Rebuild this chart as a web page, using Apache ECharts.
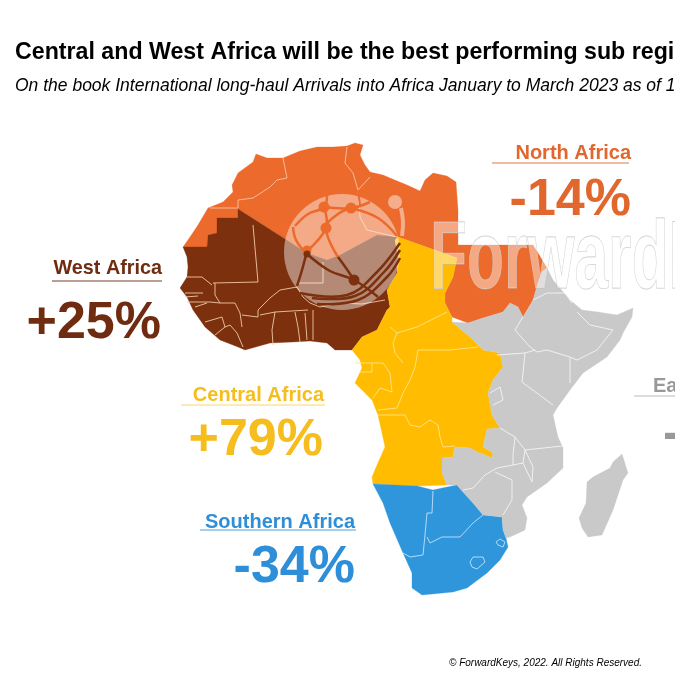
<!DOCTYPE html>
<html lang="en">
<head>
<meta charset="UTF-8">
<title>Africa sub regions</title>
<script src="https://cdn.jsdelivr.net/npm/echarts@6/dist/echarts.min.js"></script>
<style>
  html, body { margin: 0; padding: 0; background: #fff; overflow: hidden; }
  #main { width: 675px; height: 675px; }
</style>
</head>
<body>
<div id="main"></div>
<script>
// values
var regionNames = ['North Africa', 'West Africa', 'Central Africa', 'Southern Africa'];
var regionChanges = [-14, 25, 79, -34];

// map outlines, in map units (y grows southwards)
var northOutline = [[183,247],[190,237],[198,225],[208,208],[223,202],[233,192],[232,185],[238,173],[253,162],[256,154],[267,158],[283,158],[300,151],[317,147],[333,147],[347,146],[355,143],[363,145],[360,155],[365,165],[370,172],[383,175],[390,178],[407,185],[420,191],[425,180],[433,173],[447,176],[456,182],[458,210],[458,245],[533,245],[538,253],[547,268],[542,272],[538,283],[533,300],[523,317],[518,307],[510,303],[503,312],[483,318],[468,323],[452,317],[445,303],[445,293],[453,277],[457,258],[398,237],[377,235],[340,255],[327,260],[307,253],[238,209],[238,218],[217,218],[217,233],[208,235],[207,247]];
var westOutline = [[183,247],[207,247],[208,235],[217,233],[217,218],[238,218],[238,209],[307,253],[327,260],[340,255],[377,235],[398,237],[395,240],[398,257],[397,273],[387,290],[390,307],[387,310],[377,330],[362,337],[352,350],[335,350],[327,343],[310,341],[293,342],[270,343],[245,350],[238,347],[220,340],[205,327],[193,310],[187,297],[180,288],[187,277],[188,267],[187,257]];
var centralOutline = [[398,237],[457,258],[453,277],[445,293],[445,303],[452,317],[452,322],[470,337],[483,350],[500,353],[503,367],[493,380],[488,393],[492,415],[500,428],[487,429],[483,447],[493,453],[492,458],[485,455],[477,452],[470,448],[455,447],[453,457],[442,458],[442,473],[447,485],[417,486],[373,484],[372,477],[377,465],[385,447],[382,433],[378,415],[372,400],[355,383],[362,368],[360,360],[352,350],[362,337],[377,330],[387,310],[390,307],[387,290],[397,273],[398,257],[395,240]];
var southOutline = [[373,484],[417,486],[433,490],[447,487],[457,485],[463,492],[473,503],[483,515],[502,517],[503,530],[506,538],[508,547],[500,560],[487,573],[467,588],[453,592],[422,595],[412,588],[412,573],[403,553],[390,523],[383,503]];
var eastOutline = [[547,268],[553,280],[570,300],[582,310],[598,312],[617,315],[633,308],[632,317],[623,333],[620,340],[607,357],[583,373],[570,390],[557,408],[553,415],[558,437],[563,448],[563,468],[547,483],[527,497],[522,505],[527,518],[525,530],[510,537],[506,538],[503,530],[502,517],[483,515],[473,503],[463,492],[457,485],[447,485],[442,473],[442,458],[453,457],[455,447],[470,448],[477,452],[485,455],[492,458],[493,453],[483,447],[487,429],[500,428],[492,415],[488,393],[493,380],[503,367],[500,353],[483,350],[470,337],[452,322],[468,323],[483,318],[503,312],[510,303],[518,307],[523,317],[533,300],[538,283],[542,272]];
var madagascarOutline = [[622,454],[628,473],[623,480],[613,510],[602,535],[588,537],[582,528],[579,518],[586,503],[587,482],[593,477],[610,468],[613,462]];

// country borders inside each region
var northBorders = [
  [[210,208],[238,208],[238,200]],
  [[238,200],[253,198],[270,187],[277,180],[287,178],[283,158]],
  [[347,147],[345,163],[353,173],[358,190],[370,177]],
  [[358,190],[360,217],[367,230],[397,237]]
];
var westBorders = [
  [[253,225],[258,282],[213,283]],
  [[187,277],[202,277],[212,285]],
  [[215,283],[215,295],[220,303]],
  [[185,293],[203,293]],
  [[185,297],[198,296]],
  [[187,302],[210,302],[220,303],[235,303],[240,313],[242,327]],
  [[195,307],[207,303]],
  [[205,322],[222,317],[225,327],[215,335]],
  [[225,327],[230,325],[237,333],[243,347]],
  [[242,315],[258,317],[258,310],[270,298],[280,290],[297,287]],
  [[298,283],[323,283],[323,262]],
  [[297,287],[303,297],[310,303],[320,307]],
  [[260,315],[275,312],[308,310]],
  [[275,312],[272,330],[273,345]],
  [[295,312],[298,327],[300,342]],
  [[305,313],[307,340]],
  [[313,310],[313,340]],
  [[320,307],[340,303],[362,304],[385,300]]
];
var centralBorders = [
  [[390,327],[397,333],[417,327],[447,312]],
  [[397,333],[393,343],[395,353],[403,363]],
  [[418,350],[450,350],[478,347]],
  [[418,350],[415,367],[410,380],[403,393],[397,408],[378,410]],
  [[355,363],[383,363],[390,373],[392,392],[380,388],[373,398]],
  [[360,372],[372,372],[372,363]],
  [[378,415],[405,415],[410,425],[420,427],[430,420],[438,425],[440,437],[443,447],[455,446]]
];
var southBorders = [
  [[433,491],[432,513],[427,513],[425,535],[423,555],[410,557],[403,553]],
  [[427,537],[430,543],[442,537],[460,537],[473,523],[483,515]],
  [[470,562],[473,557],[483,557],[485,562],[477,569],[472,567],[470,562]],
  [[496,542],[500,539],[505,542],[503,547],[498,545],[496,542]]
];
var eastBorders = [
  [[533,300],[547,293],[565,293],[572,303]],
  [[577,312],[590,325],[613,330],[597,350],[577,360],[570,357]],
  [[523,317],[515,330],[530,347],[537,352],[547,350],[570,357]],
  [[497,355],[525,353],[535,350]],
  [[525,353],[523,373],[522,382],[553,405]],
  [[570,357],[570,383]],
  [[490,393],[500,387],[503,400],[493,405]],
  [[500,428],[515,437],[525,450],[562,446]],
  [[525,450],[523,463],[532,482],[533,467],[525,450]],
  [[515,437],[513,455],[513,465],[497,468],[485,475],[473,488],[463,490]],
  [[513,465],[523,463]],
  [[495,472],[512,480],[512,500],[503,515]]
];

// one colour for each of the arrays above
var regionColors = ['#ec6a2b', '#7c300e', '#ffbc00', '#2f96dc'];
var borderColors = ['#f8c3a5', '#f2c8a8', '#ffe48a', '#bfe2f8'];
var labelColors = ['#e2672e', '#702c10', '#f6bd1e', '#2e8fd8'];
var ruleColors = ['#e9a684', '#a08070', '#f8d675', '#4a9ede'];
var eastColor = '#c9c9c9';

function feature(name, outline) {
  return { type: 'Feature', properties: { name: name }, geometry: { type: 'Polygon', coordinates: [outline.concat([outline[0]])] } };
}

echarts.registerMap('africa', {
  type: 'FeatureCollection',
  features: [
    feature('North Africa', northOutline),
    feature('West Africa', westOutline),
    feature('Central Africa', centralOutline),
    feature('Southern Africa', southOutline),
    feature('East Africa', eastOutline),
    feature('Madagascar', madagascarOutline)
  ]
});

function borderSeries(lines, color) {
  return {
    type: 'lines',
    coordinateSystem: 'geo',
    polyline: true,
    silent: true,
    z: 5,
    lineStyle: { color: color, width: 0.9, opacity: 1 },
    data: lines.map(function (l) { return { coords: l }; })
  };
}

var sans = '"Liberation Sans", Arial, sans-serif';

function text(str, x, y, size, color, align, extra) {
  return {
    type: 'text', z: 100, silent: true, x: x, y: y,
    style: { text: str, fill: color, align: align || 'left', verticalAlign: 'middle', font: (extra || 'bold') + ' ' + size + 'px ' + sans }
  };
}
function rule(x1, x2, y, color, w) {
  return { type: 'line', z: 100, silent: true, shape: { x1: x1, y1: y, x2: x2, y2: y }, style: { stroke: color, lineWidth: w || 1.5 } };
}
function curve(points, color, w) {
  return { type: 'polyline', z: 101, silent: true, shape: { points: points, smooth: 0.4 }, style: { stroke: color, lineWidth: w, fill: null } };
}
function dot(cx, cy, r, color) {
  return { type: 'circle', z: 102, silent: true, shape: { cx: cx, cy: cy, r: r }, style: { fill: color } };
}
function pct(v) { return (v > 0 ? '+' : '-') + Math.abs(v) + '%'; }

var orange = regionColors[0], brown = regionColors[1];

var graphics = [
  // headline
  text('Central and West Africa will be the best performing sub regi', 15, 53, 23.2, '#000'),
  text('On the book International long-haul Arrivals into Africa January to March 2023 as of 1', 15, 86, 17.5, '#000', 'left', 'italic'),
  text('\u00a9 ForwardKeys, 2022. All Rights Reserved.', 449, 663, 10, '#000', 'left', 'italic'),

  // sub region call-outs
  text(regionNames[0], 631, 153, 20, labelColors[0], 'right'), rule(492, 629, 163, ruleColors[0]),
  text(pct(regionChanges[0]), 631, 201, 52, labelColors[0], 'right'),
  text(regionNames[1], 162, 269, 19.8, labelColors[1], 'right'), rule(52, 162, 281, ruleColors[1]),
  text(pct(regionChanges[1]), 161, 324, 52, labelColors[1], 'right'),
  text(regionNames[2], 324, 395, 20, labelColors[2], 'right'), rule(181, 325, 405, ruleColors[2], 1),
  text(pct(regionChanges[2]), 323, 441, 52, labelColors[2], 'right'),
  text(regionNames[3], 355, 522, 20, labelColors[3], 'right'), rule(200, 356, 530, ruleColors[3], 1),
  text(pct(regionChanges[3]), 355, 568, 52, labelColors[3], 'right'),
  text('Ea', 653, 386, 20, '#999'), rule(634, 675, 396, '#d0d0d0'),
  text('-', 663, 435, 52, '#999'),

  // ForwardKeys watermark
  {
    type: 'text', z: 99, silent: true, x: 430, y: 262, scaleX: 0.63, scaleY: 1,
    style: { text: 'ForwardKeys', fill: 'rgba(255,255,255,0.42)', stroke: 'rgba(190,190,190,0.85)', lineWidth: 0.8, verticalAlign: 'middle', font: 'bold 96px "Liberation Sans Narrow", ' + sans }
  },
  { type: 'circle', z: 99, silent: true, shape: { cx: 342, cy: 252, r: 58 }, style: { fill: 'rgba(255,255,255,0.43)' } },
  dot(395, 202, 7, '#f5ae8c'),
  curve([[401,208],[403,222],[402,236]], '#f5ae8c', 4),
  curve([[293,227],[296,240],[305,252]], orange, 2.5),
  curve([[295,226],[308,214],[324,207],[327,195]], orange, 2.5),
  curve([[324,207],[351,208],[370,202]], orange, 2.5),
  curve([[324,207],[326,228],[307,251]], orange, 2.5),
  curve([[351,208],[338,214],[326,228],[338,257]], orange, 2.5),
  curve([[351,208],[378,218],[397,236]], orange, 2.5),
  curve([[358,190],[360,205]], orange, 2),
  dot(324, 207, 5.5, orange), dot(351, 208, 5.5, orange), dot(326, 228, 5.5, orange), dot(307, 250, 4.5, orange),
  curve([[307,254],[330,271],[354,280],[378,297]], brown, 2.5),
  curve([[306,255],[302,270],[297,286]], brown, 2.5),
  curve([[338,257],[346,268],[354,280]], brown, 2.5),
  curve([[300,293],[347,295],[377,272],[400,243]], brown, 2.5),
  curve([[312,298],[355,296],[384,272],[400,250]], brown, 2.5),
  curve([[317,304],[358,300],[387,277],[400,258]], brown, 2.5),
  dot(354, 280, 5.5, brown), dot(307, 254, 3.5, brown)
];

var myChart = echarts.init(document.getElementById('main'));
myChart.setOption({
  animation: false,
  backgroundColor: '#fff',
  geo: {
    map: 'africa',
    roam: false,
    silent: true,
    projection: { project: function (p) { return p; }, unproject: function (p) { return p; } },
    boundingCoords: [[0, 0], [675, 675]],
    layoutCenter: [337.5, 337.5],
    layoutSize: 675,
    itemStyle: { areaColor: eastColor, borderColor: eastColor, borderWidth: 0.3 },
    label: { show: false },
    emphasis: { disabled: true },
    regions: regionNames.map(function (n, i) {
      return { name: n, itemStyle: { areaColor: regionColors[i], borderColor: regionColors[i] } };
    })
  },
  series: [
    borderSeries(northBorders, borderColors[0]),
    borderSeries(westBorders, borderColors[1]),
    borderSeries(centralBorders, borderColors[2]),
    borderSeries(southBorders, borderColors[3]),
    borderSeries(eastBorders, '#f4f4f4')
  ],
  graphic: { elements: graphics }
});
</script>
</body>
</html>
